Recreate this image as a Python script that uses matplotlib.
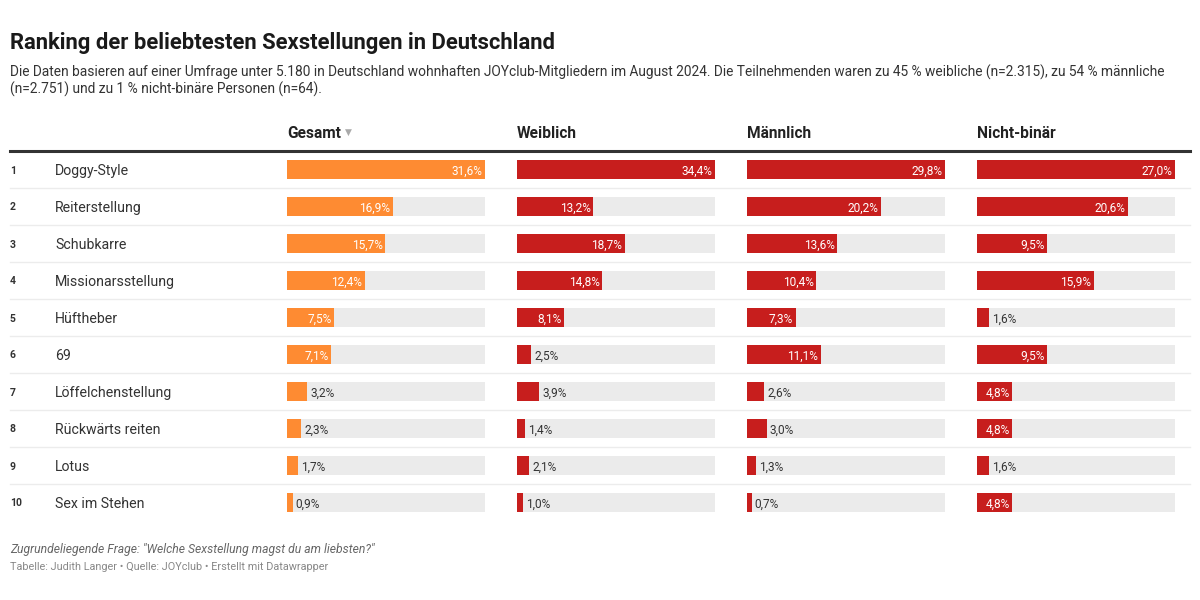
import matplotlib
matplotlib.use('Agg')
import matplotlib.pyplot as plt

plt.rcParams['font.family'] = ['Roboto', 'DejaVu Sans']

ranks = [1, 2, 3, 4, 5, 6, 7, 8, 9, 10]
positions = ['Doggy-Style', 'Reiterstellung', 'Schubkarre', 'Missionarsstellung',
             'Hüftheber', '69', 'Löffelchenstellung', 'Rückwärts reiten',
             'Lotus', 'Sex im Stehen']
columns = ['Gesamt', 'Weiblich', 'Männlich', 'Nicht-binär']
gesamt = [31.6, 16.9, 15.7, 12.4, 7.5, 7.1, 3.2, 2.3, 1.7, 0.9]
weiblich = [34.4, 13.2, 18.7, 14.8, 8.1, 2.5, 3.9, 1.4, 2.1, 1.0]
maennlich = [29.8, 20.2, 13.6, 10.4, 7.3, 11.1, 2.6, 3.0, 1.3, 0.7]
nichtbinaer = [27.0, 20.6, 9.5, 15.9, 1.6, 9.5, 4.8, 4.8, 1.6, 4.8]
series = [gesamt, weiblich, maennlich, nichtbinaer]
colors = ['#fe8b32', '#c71e1d', '#c71e1d', '#c71e1d']

W, H = 1200, 600
fig = plt.figure(figsize=(12, 6), dpi=100)
fig.patch.set_facecolor('white')

def fx(px):
    return px / W

def fy(py):
    return 1 - py / H

# title, subtitle
fig.text(fx(10), fy(40), 'Ranking der beliebtesten Sexstellungen in Deutschland',
         fontsize=15.8, fontweight='bold', color='#1a1a1a', va='center_baseline', ha='left')
fig.text(fx(10), fy(71),
         'Die Daten basieren auf einer Umfrage unter 5.180 in Deutschland wohnhaften JOYclub-Mitgliedern im August 2024. '
         'Die Teilnehmenden waren zu 45 % weibliche (n=2.315), zu 54 % männliche',
         fontsize=9.9, color='#333333', va='center_baseline', ha='left')
fig.text(fx(10), fy(88), '(n=2.751) und zu 1 % nicht-binäre Personen (n=64).',
         fontsize=9.9, color='#333333', va='center_baseline', ha='left')

# table area
top, row_h = 151, 37
n = len(positions)
bottom = top + row_h * n
bg = fig.add_axes([0, fy(bottom), 1, (bottom - top) / H])
bg.set_xlim(0, W)
bg.set_ylim(n - 0.5, -0.5)
bg.axis('off')
bg.axhline(-0.5, xmin=fx(10), xmax=fx(1190), color='#333333', lw=2.2, clip_on=False)
for i in range(n - 1):
    bg.axhline(i + 0.5, xmin=fx(10), xmax=fx(1190), color='#ececec', lw=1)
for i in range(n):
    bg.text(10, i, str(ranks[i]), fontsize=7.5, fontweight='bold', color='#333333',
            va='center_baseline')
    bg.text(55, i, positions[i], fontsize=10.2, color='#333333', va='center_baseline')

col_x = [287, 517, 747, 977]
col_w = 198
for c in range(4):
    fig.text(fx(col_x[c]), fy(132), columns[c], fontsize=11.2, fontweight='bold',
             color='#222222', va='center_baseline', ha='left')
    vals = series[c]
    vmax = max(vals)
    ax = fig.add_axes([fx(col_x[c]), fy(bottom), col_w / W, (bottom - top) / H])
    ax.set_xlim(0, vmax)
    ax.set_ylim(n - 0.5, -0.5)
    ax.axis('off')
    y = list(range(n))
    ax.barh(y, [vmax] * n, height=0.54, color='#ebebeb')
    ax.barh(y, vals, height=0.54, color=colors[c])
    for i, v in enumerate(vals):
        lab = f'{v:.1f}'.replace('.', ',') + '%'
        if v / vmax * col_w > 33:
            ax.text(v - vmax * 0.012, i, lab, fontsize=8.6, color='white',
                    ha='right', va='center_baseline')
        else:
            ax.text(v + vmax * 0.015, i, lab, fontsize=8.6, color='#333333',
                    ha='left', va='center_baseline')

fig.text(fx(345), fy(132), '▼', fontsize=6.5, color='#aaaaaa', va='center', ha='left')

# footer
fig.text(fx(10), fy(548), 'Zugrundeliegende Frage: "Welche Sexstellung magst du am liebsten?"',
         fontsize=8.7, style='italic', color='#666666', va='center_baseline')
fig.text(fx(10), fy(566), 'Tabelle: Judith Langer • Quelle: JOYclub • Erstellt mit Datawrapper',
         fontsize=7.8, color='#888888', va='center_baseline')

fig.savefig('out.png', dpi=100, facecolor='white')
